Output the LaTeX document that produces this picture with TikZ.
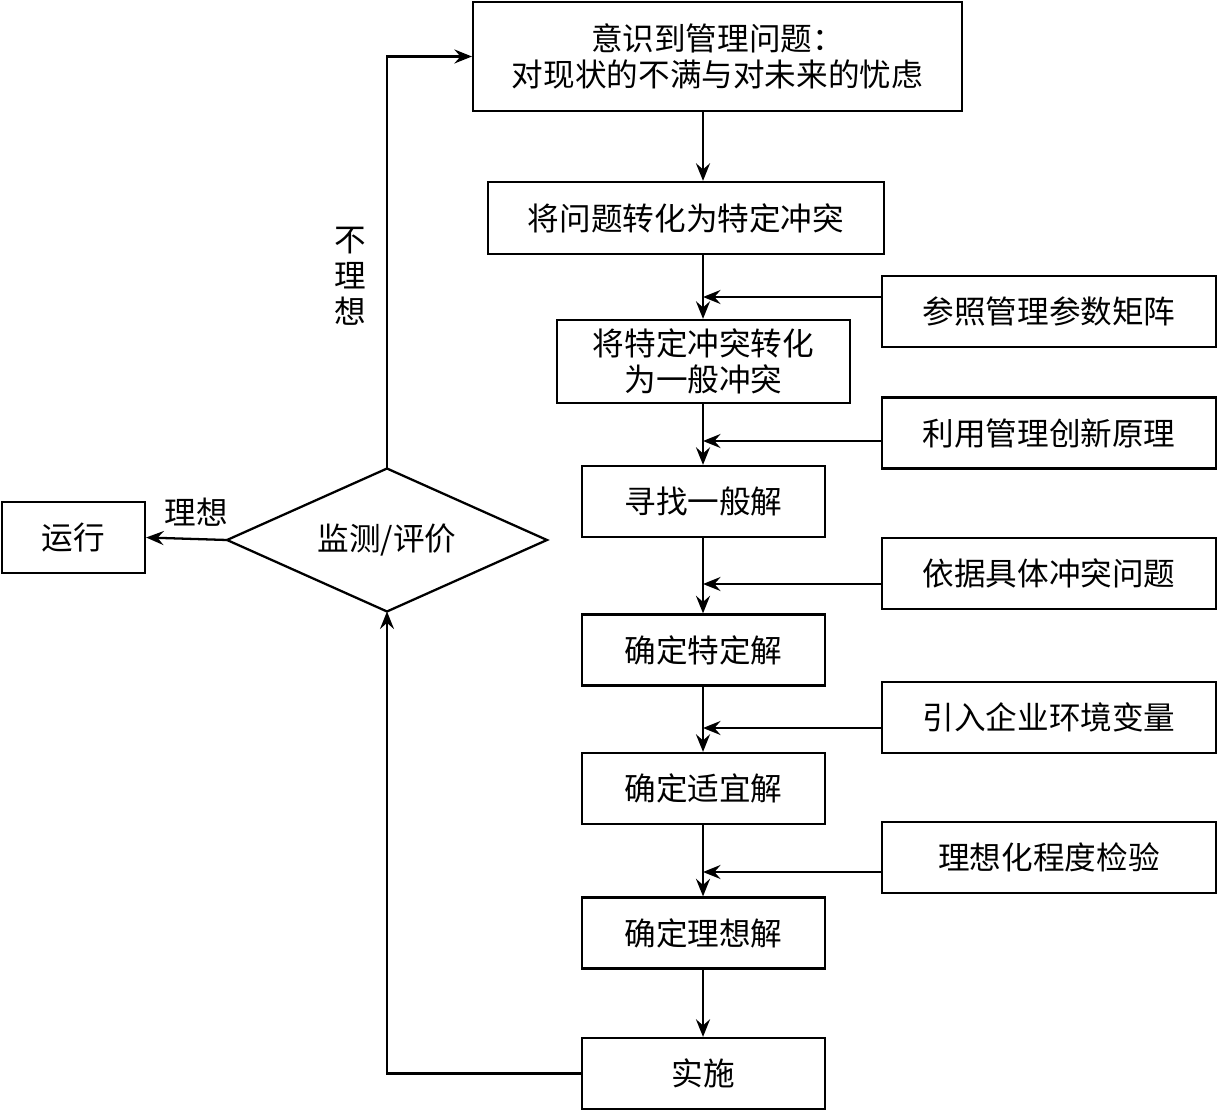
\documentclass[tikz,border=0pt]{standalone}
\usepackage{fontspec}
\newfontfamily\cjk{Noto Sans CJK SC}
\usetikzlibrary{arrows.meta,shapes.geometric}
\begin{document}
\begin{tikzpicture}[x=0.02cm, y=-0.02cm, line width=1.3pt, >={Stealth[length=10pt,width=8pt,inset=3.5pt]},
    font=\cjk\fontsize{18}{20.5}\selectfont,
    box/.style={draw, align=center, inner sep=0pt},
    stepbox/.style={box, minimum width=4.86cm, minimum height=1.42cm},
    sidebox/.style={box, minimum width=6.68cm, minimum height=1.42cm}]
    \useasboundingbox (0,0) rectangle (1217,1111);
    % main column
    \node[box, minimum width=9.78cm, minimum height=2.18cm] (aware) at (717.5,56.5) {意识到管理问题：\\对现状的不满与对未来的忧虑};
    \node[box, minimum width=7.92cm, minimum height=1.44cm] (spec) at (686,218) {将问题转化为特定冲突};
    \node[box, minimum width=5.86cm, minimum height=1.66cm] (gen) at (703.5,361.5) {将特定冲突转化\\为一般冲突};
    \node[stepbox] (gsol) at (703.5,501.5) {寻找一般解};
    \node[stepbox] (ssol) at (703.5,650) {确定特定解};
    \node[stepbox] (fsol) at (703.5,788.5) {确定适宜解};
    \node[stepbox] (isol) at (703.5,933) {确定理想解};
    \node[stepbox] (impl) at (703.5,1073.5) {实施};
    % side inputs
    \node[sidebox] (r1) at (1049,311.5) {参照管理参数矩阵};
    \node[sidebox] (r2) at (1049,433) {利用管理创新原理};
    \node[sidebox] (r3) at (1049,573.5) {依据具体冲突问题};
    \node[sidebox] (r4) at (1049,717.5) {引入企业环境变量};
    \node[sidebox] (r5) at (1049,857.5) {理想化程度检验};
    % evaluation
    \node[draw, diamond, aspect=2.2, inner sep=0pt, outer sep=0pt, minimum width=6.4cm, minimum height=2.86cm] (eval) at (387,540) {监测/评价};
    \node[box, minimum width=2.86cm, minimum height=1.42cm] (run) at (73.5,537.5) {运行};
    \coordinate (spine) at (703,0);
    \coordinate (j1) at (703,297);
    \coordinate (j2) at (703,441);
    \coordinate (j3) at (703,584);
    \coordinate (j4) at (703,728);
    \coordinate (j5) at (703,872);
    \draw[->] (aware.south -| spine) -- (spec.north -| spine);
    \draw[->] (spec.south -| spine) -- (gen.north -| spine);
    \draw[->] (gen.south -| spine) -- (gsol.north -| spine);
    \draw[->] (gsol.south -| spine) -- (ssol.north -| spine);
    \draw[->] (ssol.south -| spine) -- (fsol.north -| spine);
    \draw[->] (fsol.south -| spine) -- (isol.north -| spine);
    \draw[->] (isol.south -| spine) -- (impl.north -| spine);
    \foreach \i in {1,...,5}
        \draw[->] (r\i.west |- j\i) -- (j\i);
    % feedback loop
    \draw[->] (impl.west) -| (eval.south);
    \draw[->] (eval.north) |- (aware.west);
    \draw[->] (eval.west) -- (run.east);
    \node (good) at (196,512) {理想};
    \node[align=center] (bad) at (350,276) {不\\理\\想};
\end{tikzpicture}
\end{document}
